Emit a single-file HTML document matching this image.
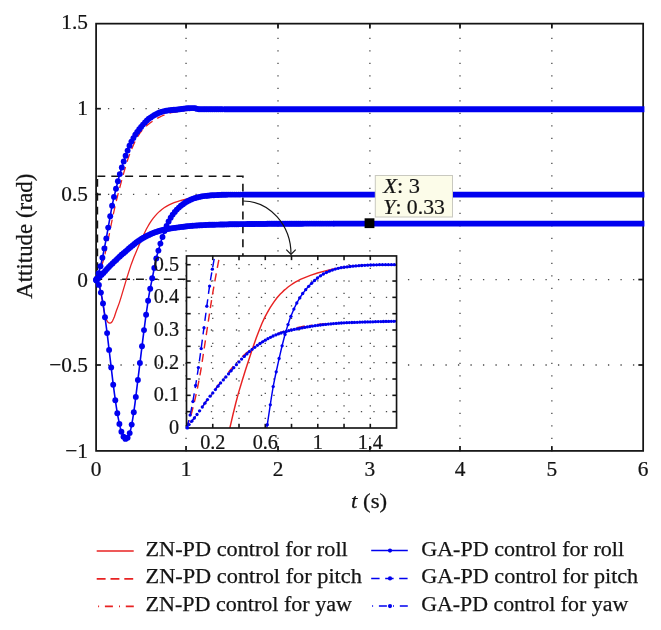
<!DOCTYPE html>
<html><head><meta charset="utf-8"><title>Attitude response</title>
<style>html,body{margin:0;padding:0;background:#fff;}svg{display:block;}</style>
</head><body>
<svg width="661" height="630" viewBox="0 0 661 630" font-family="Liberation Serif, serif">
<rect width="661" height="630" fill="#fff"/>
<g stroke="#4a4a4a" stroke-width="1.3" stroke-dasharray="1.3 11.2" fill="none"><line x1="186.05" y1="451.55" x2="186.05" y2="23.65"/><line x1="278.0" y1="451.55" x2="278.0" y2="23.65"/><line x1="369.9" y1="451.55" x2="369.9" y2="23.65"/><line x1="460.0" y1="451.55" x2="460.0" y2="23.65"/><line x1="551.85" y1="451.55" x2="551.85" y2="23.65"/><line x1="95.45" y1="108.7" x2="643.15" y2="108.7"/><line x1="95.45" y1="194.4" x2="643.15" y2="194.4"/><line x1="95.45" y1="279.55" x2="643.15" y2="279.55"/><line x1="95.45" y1="365.0" x2="643.15" y2="365.0"/></g>
<rect x="96.1" y="23.65" width="547.05" height="427.25" stroke="#141414" stroke-width="1.75" fill="none"/>
<g stroke="#141414" stroke-width="1.75"><line x1="186.05" y1="450.9" x2="186.05" y2="446.09999999999997"/><line x1="186.05" y1="23.65" x2="186.05" y2="28.45"/><line x1="278.0" y1="450.9" x2="278.0" y2="446.09999999999997"/><line x1="278.0" y1="23.65" x2="278.0" y2="28.45"/><line x1="369.9" y1="450.9" x2="369.9" y2="446.09999999999997"/><line x1="369.9" y1="23.65" x2="369.9" y2="28.45"/><line x1="460.0" y1="450.9" x2="460.0" y2="446.09999999999997"/><line x1="460.0" y1="23.65" x2="460.0" y2="28.45"/><line x1="551.85" y1="450.9" x2="551.85" y2="446.09999999999997"/><line x1="551.85" y1="23.65" x2="551.85" y2="28.45"/><line x1="96.1" y1="108.7" x2="100.89999999999999" y2="108.7"/><line x1="643.15" y1="108.7" x2="638.35" y2="108.7"/><line x1="96.1" y1="194.4" x2="100.89999999999999" y2="194.4"/><line x1="643.15" y1="194.4" x2="638.35" y2="194.4"/><line x1="96.1" y1="279.55" x2="100.89999999999999" y2="279.55"/><line x1="643.15" y1="279.55" x2="638.35" y2="279.55"/><line x1="96.1" y1="365.0" x2="100.89999999999999" y2="365.0"/><line x1="643.15" y1="365.0" x2="638.35" y2="365.0"/></g>
<path d="M97.4,176.3 H242.9 V279.3 H97.4 Z" stroke="#141414" stroke-width="1.6" fill="none" stroke-dasharray="7.9 6"/>
<clipPath id="mc"><rect x="88" y="18" width="556.4" height="445"/></clipPath>
<g clip-path="url(#mc)">
<path d="M96.1,280.0 L97.0,281.3 L98.4,284.0 L99.3,286.4 L100.2,289.7 L100.7,291.7 L101.6,296.5 L104.3,312.2 L104.8,314.4 L105.7,317.8 L106.6,320.1 L107.1,321.0 L108.0,322.2 L108.9,322.9 L109.8,323.1 L110.2,323.1 L110.7,322.9 L111.2,322.7 L111.6,322.3 L112.1,321.7 L112.5,321.0 L113.4,319.1 L114.4,316.7 L116.2,311.3 L119.4,302.6 L121.2,296.9 L126.7,278.4 L129.0,271.1 L131.2,264.4 L134.0,257.1 L138.1,247.3 L141.7,239.0 L144.5,233.0 L146.3,229.3 L147.7,226.8 L149.5,223.7 L151.3,220.9 L153.1,218.4 L155.4,215.6 L157.2,213.6 L159.5,211.4 L161.8,209.5 L164.1,207.8 L166.4,206.4 L169.1,204.9 L171.8,203.6 L174.1,202.7 L177.3,201.6 L181.0,200.5 L185.1,199.4 L188.7,198.5 L192.8,197.7 L197.4,197.0 L202.4,196.2 L207.0,195.7 L215.2,195.1 L222.9,194.7 L237.5,194.6 L643.1,194.6" stroke="#e82222" stroke-width="1.3" fill="none"/>
<path d="M96.1,280.0 L97.9,276.2 L99.8,271.8 L101.1,267.8 L103.4,260.2 L105.2,253.2 L106.6,247.2 L108.0,240.7 L112.1,220.0 L114.4,209.3 L116.2,201.5 L118.5,192.3 L122.6,176.9 L126.2,164.4 L128.0,158.8 L129.4,154.9 L130.8,151.3 L132.6,146.9 L135.3,140.9 L136.7,138.3 L138.5,135.3 L139.9,133.2 L141.7,130.8 L143.1,129.2 L144.9,127.3 L147.2,125.3 L150.4,122.8 L153.1,120.8 L155.9,119.1 L158.6,117.6 L161.8,116.0 L165.0,114.7 L168.2,113.6 L171.4,112.7 L175.0,112.0 L179.6,111.2 L184.6,110.6 L190.1,110.1 L197.4,109.6 L202.4,109.3 L207.4,109.3 L240.7,109.1 L643.1,109.1" stroke="#e82222" stroke-width="1.3" fill="none" stroke-dasharray="8.2 5.4"/>
<path d="M96.1,280.0 L102.9,273.4 L110.2,265.5 L120.7,255.0 L128.0,248.3 L130.8,245.8 L134.4,243.0 L138.5,240.2 L142.6,237.8 L148.6,234.9 L154.0,232.6 L158.6,231.0 L164.1,229.4 L169.6,228.1 L175.9,227.0 L181.9,226.2 L186.9,225.8 L192.8,225.5 L203.8,225.0 L214.7,224.7 L240.7,224.1 L278.1,223.8 L322.4,223.6 L643.1,223.6" stroke="#e82222" stroke-width="1.3" fill="none" stroke-dasharray="1 5.8 8 6.1"/>
<path d="M96.1,280.0 L96.6,280.4 L97.0,281.0 L97.9,282.6 L98.8,284.8 L99.8,287.8 L100.7,291.4 L101.6,295.7 L102.5,300.5 L103.4,306.0 L105.2,318.7 L107.1,332.9 L109.3,351.5 L113.0,382.6 L114.4,393.4 L116.2,406.1 L117.5,414.4 L118.5,419.4 L119.4,423.8 L120.3,427.7 L121.2,431.0 L122.1,433.7 L123.0,435.8 L123.5,436.7 L124.4,438.0 L124.8,438.5 L125.3,438.8 L125.8,438.9 L126.2,438.8 L126.7,438.6 L127.1,438.3 L127.6,437.8 L128.0,437.1 L129.0,435.2 L129.4,433.9 L129.9,432.4 L130.8,428.9 L131.7,424.6 L132.6,419.6 L133.5,413.9 L134.9,404.2 L143.1,337.3 L145.8,316.5 L147.7,303.7 L149.0,295.1 L150.9,285.1 L155.0,264.5 L156.3,258.3 L157.2,254.7 L158.6,249.8 L161.3,240.6 L163.2,234.9 L164.5,231.0 L165.9,227.5 L167.7,223.4 L169.1,220.6 L170.9,217.4 L172.8,214.5 L174.6,212.2 L176.4,210.1 L178.7,207.8 L181.0,205.8 L183.7,203.8 L186.9,201.6 L189.6,200.1 L192.8,198.8 L196.0,197.7 L200.1,196.7 L203.3,196.2 L208.3,195.6 L216.1,195.1 L223.9,194.7 L230.7,194.6 L643.1,194.6" stroke="#0000f0" stroke-width="1.6" fill="none"/>
<path d="M96.1,280.0 L97.0,277.8 L97.9,275.2 L99.3,270.8 L100.7,265.6 L102.5,257.5 L104.3,248.7 L106.1,239.4 L111.6,208.3 L113.4,199.6 L116.2,188.0 L118.9,177.4 L122.1,166.4 L124.8,158.1 L128.0,149.4 L129.9,145.0 L131.2,142.1 L133.1,138.6 L134.9,135.5 L136.7,132.7 L138.5,130.2 L141.3,126.7 L144.0,123.4 L145.4,122.0 L147.2,120.2 L149.0,118.7 L151.3,117.0 L154.0,115.3 L157.2,113.6 L159.5,112.5 L161.3,111.9 L165.5,110.9 L169.6,110.2 L178.2,109.4 L186.9,108.3 L192.8,108.1 L195.1,108.2 L196.0,108.4 L197.4,108.9 L198.3,109.2 L200.6,109.3 L643.1,109.3" stroke="#0000f0" stroke-width="1.6" fill="none"/>
<path d="M96.1,280.0 L103.4,272.9 L110.7,265.1 L119.4,256.8 L129.9,247.6 L133.1,245.0 L138.1,241.2 L139.9,239.9 L142.2,238.5 L146.7,236.0 L150.9,234.0 L155.4,232.2 L160.0,230.7 L165.0,229.5 L170.5,228.5 L178.7,227.3 L186.4,226.4 L192.8,225.8 L200.1,225.3 L205.6,225.0 L212.9,224.7 L239.8,224.1 L275.9,223.8 L321.9,223.6 L643.1,223.6" stroke="#0000f0" stroke-width="1.6" fill="none"/>
<g fill="#0000f0"><circle cx="96.1" cy="280.0" r="2.95"/><circle cx="96.8" cy="280.8" r="2.95"/><circle cx="98.9" cy="284.9" r="2.95"/><circle cx="100.9" cy="292.6" r="2.95"/><circle cx="103.0" cy="303.4" r="2.95"/><circle cx="105.0" cy="317.3" r="2.95"/><circle cx="107.1" cy="333.1" r="2.95"/><circle cx="109.1" cy="349.9" r="2.95"/><circle cx="111.2" cy="367.4" r="2.95"/><circle cx="113.2" cy="384.7" r="2.95"/><circle cx="115.3" cy="400.2" r="2.95"/><circle cx="117.3" cy="413.2" r="2.95"/><circle cx="119.4" cy="423.9" r="2.95"/><circle cx="121.4" cy="431.8" r="2.95"/><circle cx="123.5" cy="436.7" r="2.95"/><circle cx="125.5" cy="438.9" r="2.95"/><circle cx="127.6" cy="437.8" r="2.95"/><circle cx="129.7" cy="433.1" r="2.95"/><circle cx="131.7" cy="424.6" r="2.95"/><circle cx="133.8" cy="412.3" r="2.95"/><circle cx="135.8" cy="396.9" r="2.95"/><circle cx="137.9" cy="380.0" r="2.95"/><circle cx="139.9" cy="363.0" r="2.95"/><circle cx="142.0" cy="346.2" r="2.95"/><circle cx="144.0" cy="330.1" r="2.95"/><circle cx="146.1" cy="314.8" r="2.95"/><circle cx="148.1" cy="300.7" r="2.95"/><circle cx="150.2" cy="288.7" r="2.95"/><circle cx="152.2" cy="278.3" r="2.95"/><circle cx="154.3" cy="267.9" r="2.95"/><circle cx="156.3" cy="258.4" r="2.95"/><circle cx="158.4" cy="250.6" r="2.95"/><circle cx="160.4" cy="243.6" r="2.95"/><circle cx="162.5" cy="237.0" r="2.95"/><circle cx="164.5" cy="231.0" r="2.95"/><circle cx="166.6" cy="225.9" r="2.95"/><circle cx="168.6" cy="221.5" r="2.95"/><circle cx="170.7" cy="217.8" r="2.95"/><circle cx="172.7" cy="214.6" r="2.95"/><circle cx="174.8" cy="211.9" r="2.95"/><circle cx="176.8" cy="209.6" r="2.95"/><circle cx="178.9" cy="207.6" r="2.95"/><circle cx="180.9" cy="205.8" r="2.95"/><circle cx="183.0" cy="204.3" r="2.95"/><circle cx="185.0" cy="202.8" r="2.95"/><circle cx="187.1" cy="201.5" r="2.95"/><circle cx="189.1" cy="200.4" r="2.95"/><circle cx="191.2" cy="199.4" r="2.95"/><circle cx="193.2" cy="198.6" r="2.95"/><circle cx="195.3" cy="198.0" r="2.95"/><circle cx="197.3" cy="197.4" r="2.95"/><circle cx="199.4" cy="196.9" r="2.95"/><circle cx="201.5" cy="196.4" r="2.95"/><circle cx="203.5" cy="196.1" r="2.95"/><circle cx="205.6" cy="195.9" r="2.95"/><circle cx="207.6" cy="195.7" r="2.95"/><circle cx="209.7" cy="195.5" r="2.95"/><circle cx="211.7" cy="195.3" r="2.95"/><circle cx="213.8" cy="195.2" r="2.95"/><circle cx="215.8" cy="195.1" r="2.95"/><circle cx="217.9" cy="195.0" r="2.95"/><circle cx="219.9" cy="194.9" r="2.95"/><circle cx="222.0" cy="194.8" r="2.95"/><circle cx="224.0" cy="194.7" r="2.95"/><circle cx="226.1" cy="194.7" r="2.95"/><circle cx="228.1" cy="194.6" r="2.95"/><circle cx="230.2" cy="194.6" r="2.95"/><circle cx="232.2" cy="194.6" r="2.95"/><circle cx="234.3" cy="194.6" r="2.95"/><circle cx="236.3" cy="194.6" r="2.95"/><circle cx="238.4" cy="194.6" r="2.95"/><circle cx="240.4" cy="194.6" r="2.95"/><circle cx="96.6" cy="278.7" r="2.95"/><circle cx="98.6" cy="273.2" r="2.95"/><circle cx="100.5" cy="266.2" r="2.95"/><circle cx="102.4" cy="257.7" r="2.95"/><circle cx="104.4" cy="248.4" r="2.95"/><circle cx="106.3" cy="238.4" r="2.95"/><circle cx="108.2" cy="227.6" r="2.95"/><circle cx="110.2" cy="216.2" r="2.95"/><circle cx="112.1" cy="205.7" r="2.95"/><circle cx="114.0" cy="196.9" r="2.95"/><circle cx="116.0" cy="188.8" r="2.95"/><circle cx="117.9" cy="181.2" r="2.95"/><circle cx="119.8" cy="174.1" r="2.95"/><circle cx="121.8" cy="167.5" r="2.95"/><circle cx="123.7" cy="161.4" r="2.95"/><circle cx="125.6" cy="155.8" r="2.95"/><circle cx="127.6" cy="150.6" r="2.95"/><circle cx="129.5" cy="145.8" r="2.95"/><circle cx="131.4" cy="141.6" r="2.95"/><circle cx="133.4" cy="138.1" r="2.95"/><circle cx="135.3" cy="134.8" r="2.95"/><circle cx="137.2" cy="131.9" r="2.95"/><circle cx="139.2" cy="129.3" r="2.95"/><circle cx="141.1" cy="126.9" r="2.95"/><circle cx="143.0" cy="124.6" r="2.95"/><circle cx="145.0" cy="122.4" r="2.95"/><circle cx="146.9" cy="120.5" r="2.95"/><circle cx="148.8" cy="118.8" r="2.95"/><circle cx="150.8" cy="117.4" r="2.95"/><circle cx="152.7" cy="116.1" r="2.95"/><circle cx="154.6" cy="115.0" r="2.95"/><circle cx="156.6" cy="113.9" r="2.95"/><circle cx="158.5" cy="113.0" r="2.95"/><circle cx="160.4" cy="112.2" r="2.95"/><circle cx="162.4" cy="111.6" r="2.95"/><circle cx="164.3" cy="111.1" r="2.95"/><circle cx="166.2" cy="110.7" r="2.95"/><circle cx="168.2" cy="110.4" r="2.95"/><circle cx="170.1" cy="110.2" r="2.95"/><circle cx="172.0" cy="110.0" r="2.95"/><circle cx="174.0" cy="109.8" r="2.95"/><circle cx="175.9" cy="109.7" r="2.95"/><circle cx="177.8" cy="109.5" r="2.95"/><circle cx="179.8" cy="109.2" r="2.95"/><circle cx="181.7" cy="109.0" r="2.95"/><circle cx="183.6" cy="108.7" r="2.95"/><circle cx="185.6" cy="108.4" r="2.95"/><circle cx="187.5" cy="108.3" r="2.95"/><circle cx="189.4" cy="108.2" r="2.95"/><circle cx="191.4" cy="108.1" r="2.95"/><circle cx="193.3" cy="108.1" r="2.95"/><circle cx="195.2" cy="108.2" r="2.95"/><circle cx="197.2" cy="108.9" r="2.95"/><circle cx="199.1" cy="109.2" r="2.95"/><circle cx="201.0" cy="109.3" r="2.95"/><circle cx="203.0" cy="109.3" r="2.95"/><circle cx="204.9" cy="109.3" r="2.95"/><circle cx="206.8" cy="109.3" r="2.95"/><circle cx="208.8" cy="109.3" r="2.95"/><circle cx="210.7" cy="109.3" r="2.95"/><circle cx="212.6" cy="109.3" r="2.95"/><circle cx="214.6" cy="109.3" r="2.95"/><circle cx="216.5" cy="109.3" r="2.95"/><circle cx="218.4" cy="109.3" r="2.95"/><circle cx="220.4" cy="109.3" r="2.95"/><circle cx="222.3" cy="109.3" r="2.95"/><circle cx="96.1" cy="280.0" r="2.95"/><circle cx="97.9" cy="278.2" r="2.95"/><circle cx="99.7" cy="276.4" r="2.95"/><circle cx="101.6" cy="274.7" r="2.95"/><circle cx="103.4" cy="272.9" r="2.95"/><circle cx="105.2" cy="271.0" r="2.95"/><circle cx="107.0" cy="269.0" r="2.95"/><circle cx="108.9" cy="267.0" r="2.95"/><circle cx="110.7" cy="265.1" r="2.95"/><circle cx="112.5" cy="263.4" r="2.95"/><circle cx="114.3" cy="261.6" r="2.95"/><circle cx="116.2" cy="259.9" r="2.95"/><circle cx="118.0" cy="258.1" r="2.95"/><circle cx="119.8" cy="256.4" r="2.95"/><circle cx="121.6" cy="254.8" r="2.95"/><circle cx="123.5" cy="253.3" r="2.95"/><circle cx="125.3" cy="251.7" r="2.95"/><circle cx="127.1" cy="250.1" r="2.95"/><circle cx="128.9" cy="248.5" r="2.95"/><circle cx="130.7" cy="246.9" r="2.95"/><circle cx="132.6" cy="245.4" r="2.95"/><circle cx="134.4" cy="243.9" r="2.95"/><circle cx="136.2" cy="242.5" r="2.95"/><circle cx="138.0" cy="241.2" r="2.95"/><circle cx="139.9" cy="240.0" r="2.95"/><circle cx="141.7" cy="238.8" r="2.95"/><circle cx="143.5" cy="237.8" r="2.95"/><circle cx="145.3" cy="236.7" r="2.95"/><circle cx="147.2" cy="235.8" r="2.95"/><circle cx="149.0" cy="234.9" r="2.95"/><circle cx="150.8" cy="234.0" r="2.95"/><circle cx="152.6" cy="233.3" r="2.95"/><circle cx="154.5" cy="232.5" r="2.95"/><circle cx="156.3" cy="231.9" r="2.95"/><circle cx="158.1" cy="231.3" r="2.95"/><circle cx="159.9" cy="230.8" r="2.95"/><circle cx="161.7" cy="230.3" r="2.95"/><circle cx="163.6" cy="229.8" r="2.95"/><circle cx="165.4" cy="229.4" r="2.95"/><circle cx="167.2" cy="229.1" r="2.95"/><circle cx="169.0" cy="228.7" r="2.95"/><circle cx="170.9" cy="228.4" r="2.95"/><circle cx="172.7" cy="228.1" r="2.95"/><circle cx="174.5" cy="227.9" r="2.95"/><circle cx="176.3" cy="227.6" r="2.95"/><circle cx="178.2" cy="227.4" r="2.95"/><circle cx="180.0" cy="227.1" r="2.95"/><circle cx="181.8" cy="226.9" r="2.95"/><circle cx="183.6" cy="226.7" r="2.95"/><circle cx="185.5" cy="226.5" r="2.95"/><circle cx="187.3" cy="226.3" r="2.95"/><circle cx="189.1" cy="226.1" r="2.95"/><circle cx="190.9" cy="225.9" r="2.95"/><circle cx="192.7" cy="225.8" r="2.95"/><circle cx="194.6" cy="225.6" r="2.95"/><circle cx="196.4" cy="225.5" r="2.95"/><circle cx="198.2" cy="225.4" r="2.95"/><circle cx="200.0" cy="225.3" r="2.95"/><circle cx="201.9" cy="225.2" r="2.95"/><circle cx="203.7" cy="225.1" r="2.95"/><circle cx="205.5" cy="225.0" r="2.95"/><circle cx="207.3" cy="224.9" r="2.95"/><circle cx="209.2" cy="224.8" r="2.95"/><circle cx="211.0" cy="224.8" r="2.95"/><circle cx="212.8" cy="224.7" r="2.95"/><circle cx="214.6" cy="224.7" r="2.95"/><circle cx="216.5" cy="224.6" r="2.95"/><circle cx="218.3" cy="224.6" r="2.95"/><circle cx="220.1" cy="224.5" r="2.95"/><circle cx="221.9" cy="224.5" r="2.95"/><circle cx="223.7" cy="224.5" r="2.95"/><circle cx="225.6" cy="224.4" r="2.95"/><circle cx="227.4" cy="224.4" r="2.95"/><circle cx="229.2" cy="224.3" r="2.95"/><circle cx="231.0" cy="224.3" r="2.95"/><circle cx="232.9" cy="224.3" r="2.95"/><circle cx="234.7" cy="224.2" r="2.95"/><circle cx="236.5" cy="224.2" r="2.95"/><circle cx="238.3" cy="224.2" r="2.95"/><circle cx="240.2" cy="224.1" r="2.95"/><circle cx="242.0" cy="224.1" r="2.95"/><circle cx="243.8" cy="224.1" r="2.95"/><circle cx="245.6" cy="224.1" r="2.95"/><circle cx="247.5" cy="224.0" r="2.95"/><circle cx="249.3" cy="224.0" r="2.95"/><circle cx="251.1" cy="224.0" r="2.95"/><circle cx="252.9" cy="224.0" r="2.95"/><circle cx="254.7" cy="224.0" r="2.95"/><circle cx="256.6" cy="223.9" r="2.95"/><circle cx="258.4" cy="223.9" r="2.95"/><circle cx="260.2" cy="223.9" r="2.95"/><circle cx="262.0" cy="223.9" r="2.95"/><circle cx="263.9" cy="223.9" r="2.95"/><circle cx="265.7" cy="223.9" r="2.95"/><circle cx="267.5" cy="223.8" r="2.95"/><circle cx="269.3" cy="223.8" r="2.95"/><circle cx="271.2" cy="223.8" r="2.95"/><circle cx="273.0" cy="223.8" r="2.95"/><circle cx="274.8" cy="223.8" r="2.95"/><circle cx="276.6" cy="223.8" r="2.95"/><circle cx="278.4" cy="223.8" r="2.95"/><circle cx="280.3" cy="223.8" r="2.95"/><circle cx="282.1" cy="223.8" r="2.95"/><circle cx="283.9" cy="223.7" r="2.95"/><circle cx="285.7" cy="223.7" r="2.95"/><circle cx="287.6" cy="223.7" r="2.95"/><circle cx="289.4" cy="223.7" r="2.95"/><circle cx="291.2" cy="223.7" r="2.95"/><circle cx="293.0" cy="223.7" r="2.95"/><circle cx="294.9" cy="223.7" r="2.95"/><circle cx="296.7" cy="223.7" r="2.95"/><circle cx="298.5" cy="223.7" r="2.95"/><circle cx="300.3" cy="223.7" r="2.95"/><circle cx="302.2" cy="223.7" r="2.95"/><circle cx="304.0" cy="223.6" r="2.95"/><circle cx="305.8" cy="223.6" r="2.95"/><circle cx="307.6" cy="223.6" r="2.95"/><circle cx="309.4" cy="223.6" r="2.95"/><circle cx="311.3" cy="223.6" r="2.95"/><circle cx="313.1" cy="223.6" r="2.95"/><circle cx="314.9" cy="223.6" r="2.95"/><circle cx="316.7" cy="223.6" r="2.95"/><circle cx="318.6" cy="223.6" r="2.95"/><circle cx="320.4" cy="223.6" r="2.95"/><circle cx="322.2" cy="223.6" r="2.95"/><circle cx="324.0" cy="223.6" r="2.95"/><circle cx="325.9" cy="223.6" r="2.95"/><circle cx="327.7" cy="223.6" r="2.95"/><circle cx="329.5" cy="223.6" r="2.95"/><circle cx="331.3" cy="223.6" r="2.95"/><circle cx="333.2" cy="223.6" r="2.95"/></g>
<path d="M242.0,194.6 L647.7,194.6" stroke="#0000f0" stroke-width="5.9" fill="none"/>
<path d="M223.7,109.3 L647.7,109.3" stroke="#0000f0" stroke-width="5.9" fill="none"/>
<path d="M333.2,223.6 L647.7,223.6" stroke="#0000f0" stroke-width="5.9" fill="none"/>
</g>
<g fill="#141414" stroke="#141414" stroke-width="0.25"><text transform="translate(88.0,29.0) scale(0.97,1)" text-anchor="end" font-size="22.0" >1.5</text><text transform="translate(88.0,114.9) scale(0.97,1)" text-anchor="end" font-size="22.0" >1</text><text transform="translate(88.0,200.7) scale(0.97,1)" text-anchor="end" font-size="22.0" >0.5</text><text transform="translate(88.0,286.5) scale(0.97,1)" text-anchor="end" font-size="22.0" >0</text><text transform="translate(88.0,372.3) scale(0.97,1)" text-anchor="end" font-size="22.0" >−0.5</text><text transform="translate(88.0,458.2) scale(0.97,1)" text-anchor="end" font-size="22.0" >−1</text><text transform="translate(96.1,475.8) scale(0.97,1)" text-anchor="middle" font-size="22.0" >0</text><text transform="translate(186.1,475.8) scale(0.97,1)" text-anchor="middle" font-size="22.0" >1</text><text transform="translate(278.0,475.8) scale(0.97,1)" text-anchor="middle" font-size="22.0" >2</text><text transform="translate(369.9,475.8) scale(0.97,1)" text-anchor="middle" font-size="22.0" >3</text><text transform="translate(460.0,475.8) scale(0.97,1)" text-anchor="middle" font-size="22.0" >4</text><text transform="translate(551.9,475.8) scale(0.97,1)" text-anchor="middle" font-size="22.0" >5</text><text transform="translate(643.1,475.8) scale(0.97,1)" text-anchor="middle" font-size="22.0" >6</text></g>
<text transform="translate(32,236.2) rotate(-90)" text-anchor="middle" font-size="22.5" fill="#141414" stroke="#141414" stroke-width="0.25" textLength="125.2" lengthAdjust="spacingAndGlyphs">Attitude (rad)</text>
<text x="351.0" y="508.3" font-size="22" fill="#141414" stroke="#141414" stroke-width="0.25" textLength="36.2" lengthAdjust="spacingAndGlyphs"><tspan font-style="italic">t</tspan> (s)</text>
<path d="M243.1,201 A47.9,53.3 0 0 1 291,254.3" stroke="#141414" stroke-width="1.2" fill="none"/>
<path d="M286.3,249.6 L291,254.4 L295.7,249.6" stroke="#141414" stroke-width="1.2" fill="none"/>
<rect x="375.3" y="175.5" width="77.2" height="41.5" fill="#fcfce9" stroke="#c9c9c0" stroke-width="1"/>
<rect x="364.6" y="218.3" width="9.8" height="9.8" fill="#000"/>
<text x="383.3" y="193.3" font-size="20.8" fill="#141414" stroke="#141414" stroke-width="0.2" textLength="36.8" lengthAdjust="spacingAndGlyphs"><tspan font-style="italic">X</tspan>: 3</text>
<text x="383.3" y="213.9" font-size="20.8" fill="#141414" stroke="#141414" stroke-width="0.2" textLength="61.6" lengthAdjust="spacingAndGlyphs"><tspan font-style="italic">Y</tspan>: 0.33</text>
<rect x="186.5" y="255.95" width="210.05" height="172.05" fill="#fff"/>
<g stroke="#4a4a4a" stroke-width="1.3" stroke-dasharray="1.3 11.2" fill="none"><line x1="212.76" y1="255.30" x2="212.76" y2="428.00"/><line x1="239.01" y1="255.30" x2="239.01" y2="428.00"/><line x1="265.27" y1="255.30" x2="265.27" y2="428.00"/><line x1="291.52" y1="255.30" x2="291.52" y2="428.00"/><line x1="317.78" y1="255.30" x2="317.78" y2="428.00"/><line x1="344.04" y1="255.30" x2="344.04" y2="428.00"/><line x1="370.29" y1="255.30" x2="370.29" y2="428.00"/><line x1="185.85" y1="411.67" x2="396.55" y2="411.67"/><line x1="185.85" y1="395.34" x2="396.55" y2="395.34"/><line x1="185.85" y1="379.01" x2="396.55" y2="379.01"/><line x1="185.85" y1="362.68" x2="396.55" y2="362.68"/><line x1="185.85" y1="346.35" x2="396.55" y2="346.35"/><line x1="185.85" y1="330.02" x2="396.55" y2="330.02"/><line x1="185.85" y1="313.69" x2="396.55" y2="313.69"/><line x1="185.85" y1="297.36" x2="396.55" y2="297.36"/><line x1="185.85" y1="281.03" x2="396.55" y2="281.03"/><line x1="185.85" y1="264.70" x2="396.55" y2="264.70"/></g>
<g stroke="#141414" stroke-width="1.6"><line x1="212.76" y1="428.0" x2="212.76" y2="423.8"/><line x1="212.76" y1="255.95" x2="212.76" y2="260.15"/><line x1="239.01" y1="428.0" x2="239.01" y2="423.8"/><line x1="239.01" y1="255.95" x2="239.01" y2="260.15"/><line x1="265.27" y1="428.0" x2="265.27" y2="423.8"/><line x1="265.27" y1="255.95" x2="265.27" y2="260.15"/><line x1="291.52" y1="428.0" x2="291.52" y2="423.8"/><line x1="291.52" y1="255.95" x2="291.52" y2="260.15"/><line x1="317.78" y1="428.0" x2="317.78" y2="423.8"/><line x1="317.78" y1="255.95" x2="317.78" y2="260.15"/><line x1="344.04" y1="428.0" x2="344.04" y2="423.8"/><line x1="344.04" y1="255.95" x2="344.04" y2="260.15"/><line x1="370.29" y1="428.0" x2="370.29" y2="423.8"/><line x1="370.29" y1="255.95" x2="370.29" y2="260.15"/><line x1="186.5" y1="411.67" x2="190.7" y2="411.67"/><line x1="396.55" y1="411.67" x2="392.35" y2="411.67"/><line x1="186.5" y1="395.34" x2="190.7" y2="395.34"/><line x1="396.55" y1="395.34" x2="392.35" y2="395.34"/><line x1="186.5" y1="379.01" x2="190.7" y2="379.01"/><line x1="396.55" y1="379.01" x2="392.35" y2="379.01"/><line x1="186.5" y1="362.68" x2="190.7" y2="362.68"/><line x1="396.55" y1="362.68" x2="392.35" y2="362.68"/><line x1="186.5" y1="346.35" x2="190.7" y2="346.35"/><line x1="396.55" y1="346.35" x2="392.35" y2="346.35"/><line x1="186.5" y1="330.02" x2="190.7" y2="330.02"/><line x1="396.55" y1="330.02" x2="392.35" y2="330.02"/><line x1="186.5" y1="313.69" x2="190.7" y2="313.69"/><line x1="396.55" y1="313.69" x2="392.35" y2="313.69"/><line x1="186.5" y1="297.36" x2="190.7" y2="297.36"/><line x1="396.55" y1="297.36" x2="392.35" y2="297.36"/><line x1="186.5" y1="281.03" x2="190.7" y2="281.03"/><line x1="396.55" y1="281.03" x2="392.35" y2="281.03"/><line x1="186.5" y1="264.70" x2="190.7" y2="264.70"/><line x1="396.55" y1="264.70" x2="392.35" y2="264.70"/></g>
<clipPath id="ic"><rect x="186.5" y="255.95" width="210.05" height="172.05"/></clipPath>
<g clip-path="url(#ic)"><path d="M225.9,445.8 L230.0,427.3 L233.1,414.0 L235.8,403.0 L238.5,392.9 L242.0,381.2 L245.4,370.3 L252.2,349.6 L256.3,337.7 L259.1,330.4 L261.8,323.8 L264.5,317.9 L267.3,312.6 L270.3,307.3 L273.8,302.1 L276.8,298.0 L280.3,294.1 L282.0,292.4 L284.0,290.4 L286.1,288.7 L288.1,287.0 L290.9,285.0 L293.3,283.4 L295.3,282.1 L297.7,280.8 L300.4,279.4 L303.5,278.1 L310.4,275.4 L317.5,273.0 L324.4,271.1 L332.3,269.3 L340.1,267.8 L347.0,266.8 L353.8,266.0 L362.0,265.4 L368.8,265.1 L383.2,264.8 L396.6,264.7" stroke="#e82222" stroke-width="1.45" fill="none"/><path d="M186.5,428.0 L188.1,423.8 L189.9,418.6 L191.1,414.8 L192.4,409.8 L193.8,404.3 L195.6,396.7 L197.2,389.4 L198.6,382.4 L200.6,371.6 L202.3,360.9 L209.5,313.6 L211.6,299.9 L213.8,286.9 L216.4,272.6 L219.2,258.0 L222.7,240.1 L225.9,224.9" stroke="#e82222" stroke-width="1.45" fill="none" stroke-dasharray="8.2 5.4"/><path d="M186.5,428.0 L190.3,423.0 L194.1,418.3 L196.6,415.0 L199.1,411.5 L206.7,400.5 L213.4,391.6 L219.8,383.1 L232.4,367.5 L235.3,364.0 L237.9,361.2 L241.2,357.7 L244.6,354.5 L248.0,351.6 L251.3,349.0 L256.0,345.7 L261.0,342.5 L265.6,339.7 L270.7,337.0 L274.9,335.0 L279.5,333.0 L284.6,331.2 L289.6,329.6 L295.1,328.1 L300.6,326.9 L306.0,325.8 L311.5,325.0 L316.6,324.5 L322.9,324.0 L343.5,322.8 L367.9,321.9 L396.6,321.2" stroke="#e82222" stroke-width="1.45" fill="none" stroke-dasharray="1 5.8 8 6.1"/><path d="M258.7,491.9 L261.7,464.7 L263.1,453.7 L264.8,441.5 L271.4,397.3 L273.3,385.9 L275.3,376.0 L278.6,360.8 L281.9,346.5 L284.4,336.7 L286.9,328.1 L289.6,319.8 L291.3,315.3 L293.0,311.2 L294.6,307.5 L296.0,304.6 L297.4,302.0 L299.0,299.1 L300.7,296.5 L302.6,293.7 L304.6,291.1 L306.5,288.7 L308.4,286.5 L310.6,284.2 L312.8,282.1 L315.6,279.6 L317.5,278.0 L319.5,276.5 L321.1,275.4 L323.1,274.2 L325.3,273.1 L327.5,272.0 L329.7,271.1 L332.5,270.0 L337.2,268.6 L339.4,268.1 L341.9,267.6 L348.5,266.7 L357.9,265.8 L364.8,265.3 L377.2,264.8 L382.7,264.7 L396.6,264.7" stroke="#0000f0" stroke-width="1.45" fill="none"/><path d="M186.5,428.0 L187.5,424.8 L188.7,420.6 L189.9,415.9 L190.9,411.6 L193.0,400.6 L195.6,385.6 L198.6,366.6 L201.1,349.0 L208.7,292.1 L210.2,281.6 L212.2,269.9 L215.8,250.1 L219.0,233.9 L222.5,217.2 L225.9,202.8" stroke="#0000f0" stroke-width="1.45" fill="none" stroke-dasharray="8.2 5.4"/><path d="M186.5,428.0 L190.3,423.1 L194.1,418.3 L197.0,414.5 L204.6,403.6 L207.5,399.5 L218.5,385.5 L221.4,382.0 L234.1,367.4 L238.7,362.2 L242.9,357.8 L246.7,354.1 L249.6,351.4 L253.0,348.6 L257.6,345.2 L261.4,342.6 L265.6,340.0 L270.3,337.4 L274.5,335.4 L279.1,333.6 L283.7,332.1 L289.2,330.6 L295.9,329.1 L304.4,327.4 L311.9,326.2 L319.5,325.1 L325.8,324.4 L333.4,323.6 L339.7,323.1 L346.0,322.7 L354.9,322.4 L366.7,322.0 L396.6,321.2" stroke="#0000f0" stroke-width="1.45" fill="none" stroke-dasharray="1 5.8 8 6.1"/><g fill="#0000f0"><circle cx="261.4" cy="467.6" r="1.65"/><circle cx="264.3" cy="444.6" r="1.65"/><circle cx="267.3" cy="424.7" r="1.65"/><circle cx="270.3" cy="404.8" r="1.65"/><circle cx="273.2" cy="386.6" r="1.65"/><circle cx="276.2" cy="371.8" r="1.65"/><circle cx="279.1" cy="358.5" r="1.65"/><circle cx="282.1" cy="345.8" r="1.65"/><circle cx="285.0" cy="334.4" r="1.65"/><circle cx="288.0" cy="324.6" r="1.65"/><circle cx="290.9" cy="316.3" r="1.65"/><circle cx="293.9" cy="309.1" r="1.65"/><circle cx="296.8" cy="303.0" r="1.65"/><circle cx="299.8" cy="297.9" r="1.65"/><circle cx="302.7" cy="293.5" r="1.65"/><circle cx="305.7" cy="289.7" r="1.65"/><circle cx="308.7" cy="286.3" r="1.65"/><circle cx="311.6" cy="283.3" r="1.65"/><circle cx="314.6" cy="280.5" r="1.65"/><circle cx="317.5" cy="278.0" r="1.65"/><circle cx="320.5" cy="275.8" r="1.65"/><circle cx="323.4" cy="274.0" r="1.65"/><circle cx="326.4" cy="272.5" r="1.65"/><circle cx="329.3" cy="271.2" r="1.65"/><circle cx="332.3" cy="270.1" r="1.65"/><circle cx="335.2" cy="269.1" r="1.65"/><circle cx="338.2" cy="268.3" r="1.65"/><circle cx="341.1" cy="267.7" r="1.65"/><circle cx="344.1" cy="267.2" r="1.65"/><circle cx="347.1" cy="266.9" r="1.65"/><circle cx="350.0" cy="266.5" r="1.65"/><circle cx="353.0" cy="266.2" r="1.65"/><circle cx="355.9" cy="265.9" r="1.65"/><circle cx="358.9" cy="265.7" r="1.65"/><circle cx="361.8" cy="265.5" r="1.65"/><circle cx="364.8" cy="265.3" r="1.65"/><circle cx="367.7" cy="265.2" r="1.65"/><circle cx="370.7" cy="265.0" r="1.65"/><circle cx="373.6" cy="264.9" r="1.65"/><circle cx="376.6" cy="264.8" r="1.65"/><circle cx="379.5" cy="264.7" r="1.65"/><circle cx="382.5" cy="264.7" r="1.65"/><circle cx="385.5" cy="264.7" r="1.65"/><circle cx="388.4" cy="264.7" r="1.65"/><circle cx="391.4" cy="264.7" r="1.65"/><circle cx="394.3" cy="264.7" r="1.65"/><circle cx="190.1" cy="415.1" r="1.65"/><circle cx="192.9" cy="401.6" r="1.65"/><circle cx="195.6" cy="385.4" r="1.65"/><circle cx="198.4" cy="367.6" r="1.65"/><circle cx="201.2" cy="348.6" r="1.65"/><circle cx="204.0" cy="327.8" r="1.65"/><circle cx="206.8" cy="306.2" r="1.65"/><circle cx="209.6" cy="286.1" r="1.65"/><circle cx="212.3" cy="269.2" r="1.65"/><circle cx="215.1" cy="253.8" r="1.65"/><circle cx="217.9" cy="239.2" r="1.65"/><circle cx="220.7" cy="225.6" r="1.65"/><circle cx="223.5" cy="213.0" r="1.65"/><circle cx="189.1" cy="424.6" r="1.65"/><circle cx="191.8" cy="421.2" r="1.65"/><circle cx="194.4" cy="418.0" r="1.65"/><circle cx="197.0" cy="414.5" r="1.65"/><circle cx="199.6" cy="410.8" r="1.65"/><circle cx="202.3" cy="407.0" r="1.65"/><circle cx="204.9" cy="403.2" r="1.65"/><circle cx="207.5" cy="399.6" r="1.65"/><circle cx="210.1" cy="396.2" r="1.65"/><circle cx="212.8" cy="392.9" r="1.65"/><circle cx="215.4" cy="389.6" r="1.65"/><circle cx="218.0" cy="386.2" r="1.65"/><circle cx="220.6" cy="382.9" r="1.65"/><circle cx="223.3" cy="379.9" r="1.65"/><circle cx="225.9" cy="376.9" r="1.65"/><circle cx="228.5" cy="373.9" r="1.65"/><circle cx="231.1" cy="370.8" r="1.65"/><circle cx="233.8" cy="367.7" r="1.65"/><circle cx="236.4" cy="364.7" r="1.65"/><circle cx="239.0" cy="361.9" r="1.65"/><circle cx="241.6" cy="359.1" r="1.65"/><circle cx="244.3" cy="356.4" r="1.65"/><circle cx="246.9" cy="353.9" r="1.65"/><circle cx="249.5" cy="351.5" r="1.65"/><circle cx="252.1" cy="349.3" r="1.65"/><circle cx="254.8" cy="347.3" r="1.65"/><circle cx="257.4" cy="345.3" r="1.65"/><circle cx="260.0" cy="343.5" r="1.65"/><circle cx="262.6" cy="341.8" r="1.65"/><circle cx="265.3" cy="340.2" r="1.65"/><circle cx="267.9" cy="338.7" r="1.65"/><circle cx="270.5" cy="337.3" r="1.65"/><circle cx="273.1" cy="336.0" r="1.65"/><circle cx="275.8" cy="334.9" r="1.65"/><circle cx="278.4" cy="333.9" r="1.65"/><circle cx="281.0" cy="333.0" r="1.65"/><circle cx="283.6" cy="332.1" r="1.65"/><circle cx="286.3" cy="331.4" r="1.65"/><circle cx="288.9" cy="330.7" r="1.65"/><circle cx="291.5" cy="330.0" r="1.65"/><circle cx="294.2" cy="329.4" r="1.65"/><circle cx="296.8" cy="328.9" r="1.65"/><circle cx="299.4" cy="328.4" r="1.65"/><circle cx="302.0" cy="327.9" r="1.65"/><circle cx="304.7" cy="327.4" r="1.65"/><circle cx="307.3" cy="326.9" r="1.65"/><circle cx="309.9" cy="326.5" r="1.65"/><circle cx="312.5" cy="326.1" r="1.65"/><circle cx="315.2" cy="325.7" r="1.65"/><circle cx="317.8" cy="325.3" r="1.65"/><circle cx="320.4" cy="325.0" r="1.65"/><circle cx="323.0" cy="324.7" r="1.65"/><circle cx="325.7" cy="324.4" r="1.65"/><circle cx="328.3" cy="324.1" r="1.65"/><circle cx="330.9" cy="323.9" r="1.65"/><circle cx="333.5" cy="323.6" r="1.65"/><circle cx="336.2" cy="323.4" r="1.65"/><circle cx="338.8" cy="323.2" r="1.65"/><circle cx="341.4" cy="323.0" r="1.65"/><circle cx="344.0" cy="322.8" r="1.65"/><circle cx="346.7" cy="322.7" r="1.65"/><circle cx="349.3" cy="322.6" r="1.65"/><circle cx="351.9" cy="322.5" r="1.65"/><circle cx="354.5" cy="322.4" r="1.65"/><circle cx="357.2" cy="322.3" r="1.65"/><circle cx="359.8" cy="322.2" r="1.65"/><circle cx="362.4" cy="322.1" r="1.65"/><circle cx="365.0" cy="322.0" r="1.65"/><circle cx="367.7" cy="321.9" r="1.65"/><circle cx="370.3" cy="321.9" r="1.65"/><circle cx="372.9" cy="321.8" r="1.65"/><circle cx="375.5" cy="321.7" r="1.65"/><circle cx="378.2" cy="321.6" r="1.65"/><circle cx="380.8" cy="321.6" r="1.65"/><circle cx="383.4" cy="321.5" r="1.65"/><circle cx="386.0" cy="321.4" r="1.65"/><circle cx="388.7" cy="321.4" r="1.65"/><circle cx="391.3" cy="321.3" r="1.65"/><circle cx="393.9" cy="321.3" r="1.65"/><circle cx="396.6" cy="321.2" r="1.65"/></g></g>
<rect x="186.5" y="255.95" width="210.05" height="172.05" stroke="#141414" stroke-width="1.65" fill="none"/>
<g fill="#0000f0"><circle cx="187.3" cy="427.7" r="1.8499999999999999"/></g>
<g fill="#141414" stroke="#141414" stroke-width="0.25"><text transform="translate(179.0,433.8) scale(0.94,1)" text-anchor="end" font-size="21.5" >0</text><text transform="translate(179.0,401.1) scale(0.94,1)" text-anchor="end" font-size="21.5" >0.1</text><text transform="translate(179.0,368.5) scale(0.94,1)" text-anchor="end" font-size="21.5" >0.2</text><text transform="translate(179.0,335.8) scale(0.94,1)" text-anchor="end" font-size="21.5" >0.3</text><text transform="translate(179.0,303.2) scale(0.94,1)" text-anchor="end" font-size="21.5" >0.4</text><text transform="translate(179.0,270.5) scale(0.94,1)" text-anchor="end" font-size="21.5" >0.5</text><text transform="translate(212.8,448.6) scale(0.94,1)" text-anchor="middle" font-size="21.5" >0.2</text><text transform="translate(265.3,448.6) scale(0.94,1)" text-anchor="middle" font-size="21.5" >0.6</text><text transform="translate(317.8,448.6) scale(0.94,1)" text-anchor="middle" font-size="21.5" >1</text><text transform="translate(370.3,448.6) scale(0.94,1)" text-anchor="middle" font-size="21.5" >1.4</text></g>
<g fill="#141414"><line x1="96.7" y1="551.0" x2="133.7" y2="551.0" stroke="#e82222" stroke-width="1.6"/><line x1="96.7" y1="578.9" x2="133.7" y2="578.9" stroke="#e82222" stroke-width="1.6" stroke-dasharray="8.9 4.9"/><line x1="98.1" y1="606.4" x2="133.9" y2="606.4" stroke="#e82222" stroke-width="1.6" stroke-dasharray="1 5.8 8 6.1"/><line x1="371.2" y1="550.6" x2="407.8" y2="550.6" stroke="#0000f0" stroke-width="1.5"/><line x1="371.2" y1="578.4" x2="407.8" y2="578.4" stroke="#0000f0" stroke-width="1.5" stroke-dasharray="8.4 5.6"/><line x1="372.1" y1="606.1" x2="407.9" y2="606.1" stroke="#0000f0" stroke-width="1.5" stroke-dasharray="1 5.8 8 6.1"/><circle cx="390.0" cy="550.6" r="2.1" fill="#0000f0"/><circle cx="390.0" cy="578.4" r="2.1" fill="#0000f0"/><circle cx="390.0" cy="606.1" r="2.1" fill="#0000f0"/><text x="145.5" y="555.7" font-size="21.6" textLength="202.3" lengthAdjust="spacingAndGlyphs" stroke="#141414" stroke-width="0.25">ZN-PD control for roll</text><text x="421.2" y="555.7" font-size="21.6" textLength="202.9" lengthAdjust="spacingAndGlyphs" stroke="#141414" stroke-width="0.25">GA-PD control for roll</text><text x="145.5" y="583.4" font-size="21.6" textLength="216.4" lengthAdjust="spacingAndGlyphs" stroke="#141414" stroke-width="0.25">ZN-PD control for pitch</text><text x="421.2" y="583.4" font-size="21.6" textLength="217.0" lengthAdjust="spacingAndGlyphs" stroke="#141414" stroke-width="0.25">GA-PD control for pitch</text><text x="145.5" y="610.9" font-size="21.6" textLength="206.4" lengthAdjust="spacingAndGlyphs" stroke="#141414" stroke-width="0.25">ZN-PD control for yaw</text><text x="421.2" y="610.9" font-size="21.6" textLength="207.0" lengthAdjust="spacingAndGlyphs" stroke="#141414" stroke-width="0.25">GA-PD control for yaw</text></g>
</svg>
</body></html>
